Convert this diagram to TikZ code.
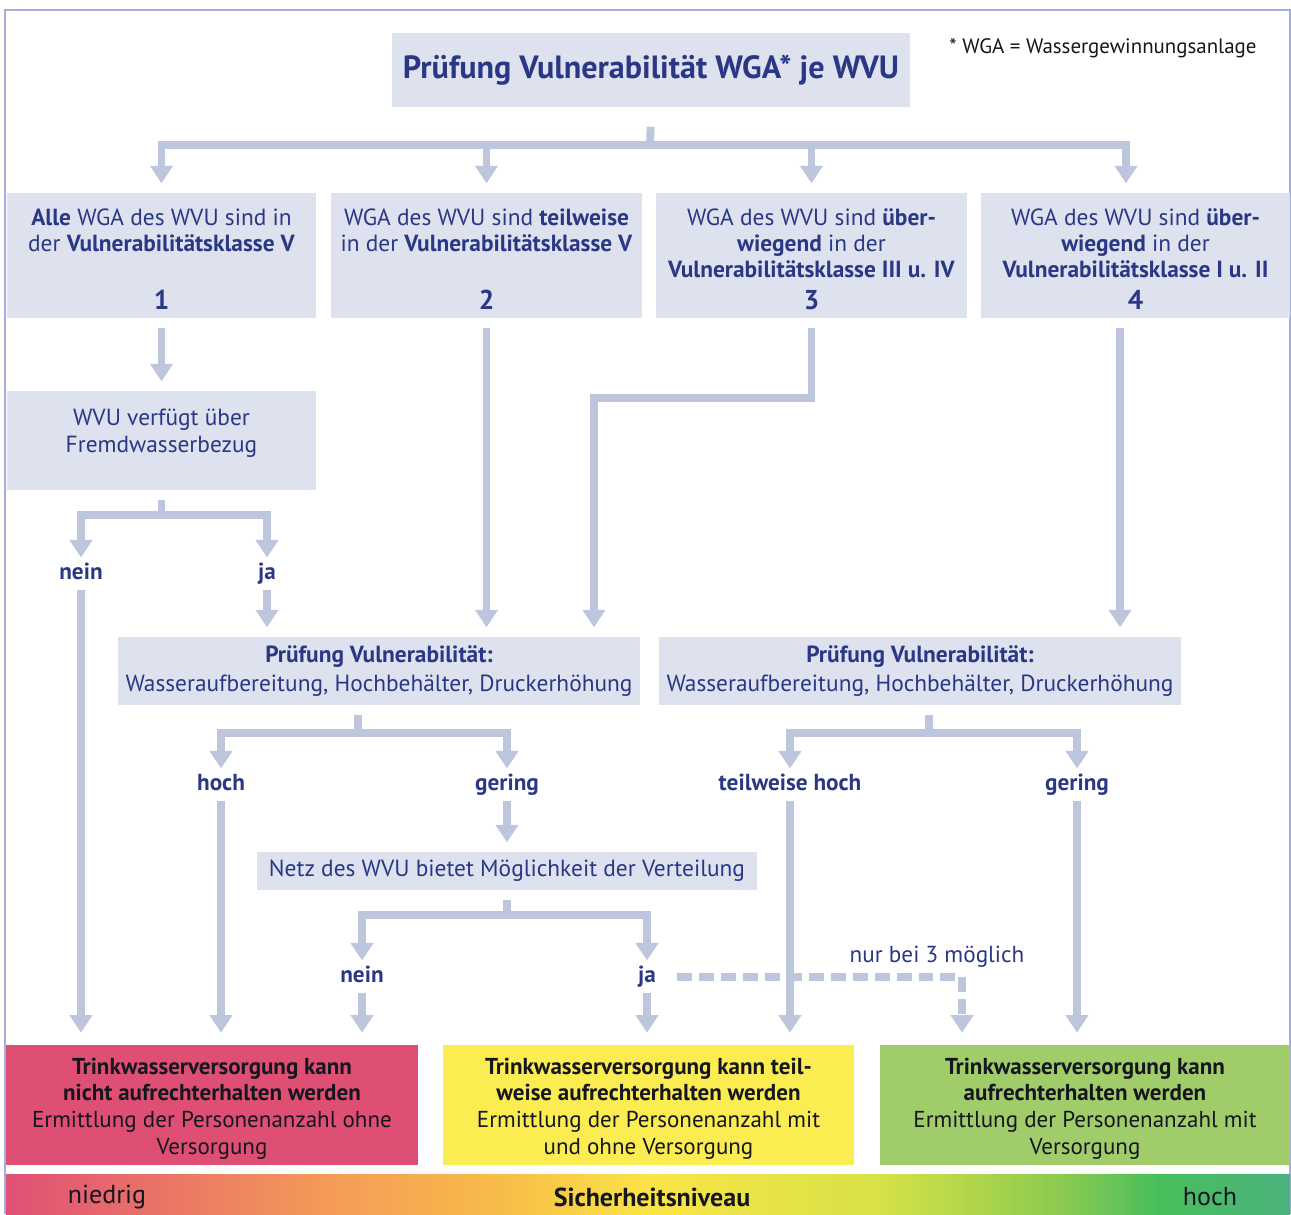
\documentclass[tikz,border=0pt]{standalone}
\usepackage{fontspec}
\setmainfont{PT Sans}
\usetikzlibrary{arrows.meta}

\definecolor{navy}{RGB}{42,55,133}
\definecolor{boxblue}{RGB}{221,226,238}
\definecolor{arrowblue}{RGB}{190,198,222}
\definecolor{framelila}{RGB}{168,172,216}
\definecolor{redbox}{RGB}{222,79,115}
\definecolor{yellowbox}{RGB}{251,236,82}
\definecolor{greenbox}{RGB}{160,204,106}
\definecolor{darktext}{RGB}{22,22,30}
% Farbverlauf Sicherheitsniveau
\definecolor{g0}{RGB}{224,80,118}
\definecolor{g1}{RGB}{236,125,100}
\definecolor{g2}{RGB}{244,155,88}
\definecolor{g3}{RGB}{248,188,72}
\definecolor{g4}{RGB}{250,228,72}
\definecolor{g5}{RGB}{214,226,70}
\definecolor{g6}{RGB}{140,202,80}
\definecolor{g7}{RGB}{72,190,92}
\definecolor{g8}{RGB}{76,178,126}

\begin{document}
\begin{tikzpicture}[x=0.02cm, y=-0.02cm,
    box/.style={fill=boxblue, text=navy, align=center, inner sep=0pt, outer sep=5.5pt,
        font=\fontsize{13.3}{15}\selectfont},
    result/.style={align=center, text=darktext, inner sep=0pt, outer sep=7pt,
        minimum width=8.22cm, minimum height=2.4cm, font=\fontsize{13.1}{15.1}\selectfont},
    lab/.style={text=navy, inner sep=1pt, outer sep=4pt, text height=1.5ex, text depth=0.25ex,
        font=\fontsize{13.2}{15}\selectfont\bfseries},
    stem/.style={draw=arrowblue, line width=4.5pt},
    flow/.style={stem, -{Triangle[width=12.5pt,length=10pt]}},
    flowdash/.style={flow, dash pattern=on 8.5pt off 4pt}
]
    \useasboundingbox (0,0) rectangle (1291,1214);

    % Rahmen
    \draw[framelila, line width=1.1pt] (5,1214) -- (5,10) -- (1290,10) -- (1290,1214);

    % Kopf
    \node[box, minimum width=10.36cm, minimum height=1.5cm, font=\fontsize{18.3}{20}\selectfont\bfseries]
        (title) at (651,70) {Prüfung Vulnerabilität WGA* je WVU};
    \node[text=darktext, font=\fontsize{11.9}{13}\selectfont] (note) at (1103,48) {* WGA = Wassergewinnungsanlage};

    % Vulnerabilitaetsklassen
    \begin{scope}[every node/.style={box, minimum height=2.5cm}]
        \node[minimum width=6.2cm] (kl1) at (161.5,255.5)
            {\rule{0pt}{13.5pt}\textbf{Alle} WGA des WVU sind in\\der \textbf{Vulnerabilitätsklasse V}\\\mbox{}\\[3pt]{\fontsize{15.5}{15}\selectfont\bfseries 1}};
        \node[minimum width=6.22cm] (kl2) at (486.5,255.5)
            {\rule{0pt}{13.5pt}WGA des WVU sind \textbf{teilweise}\\in der \textbf{Vulnerabilitätsklasse V}\\\mbox{}\\[3pt]{\fontsize{15.5}{15}\selectfont\bfseries 2}};
        \node[minimum width=6.22cm] (kl3) at (811.5,255.5)
            {\rule{0pt}{13.5pt}WGA des WVU sind \textbf{über-}\\\textbf{wiegend} in der\\\textbf{Vulnerabilitätsklasse III u. IV}\\[3pt]{\fontsize{15.5}{15}\selectfont\bfseries 3}};
        \node[minimum width=6.18cm] (kl4) at (1135.5,255.5)
            {\rule{0pt}{13.5pt}WGA des WVU sind \textbf{über-}\\\textbf{wiegend} in der\\\textbf{Vulnerabilitätsklasse I u. II}\\[3pt]{\fontsize{15.5}{15}\selectfont\bfseries 4}};
    \end{scope}

    \node[box, minimum width=6.2cm, minimum height=1.98cm] (fremd) at (161.5,440.5)
        {WVU verfügt über\\[0.6pt]Fremdwasserbezug\\[-4pt]\mbox{}};

    \node[lab] (nein1) at (81,574) {nein};
    \node[lab] (ja1) at (267,574) {ja};

    % Pruefung Vulnerabilitaet
    \node[box, minimum width=10.44cm, minimum height=1.36cm] (pruefA) at (379,671)
        {\textbf{Prüfung Vulnerabilität:}\\[1pt]Wasseraufbereitung, Hochbehälter, Druckerhöhung};
    \node[box, minimum width=10.44cm, minimum height=1.36cm] (pruefB) at (920,671)
        {\textbf{Prüfung Vulnerabilität:}\\[1pt]Wasseraufbereitung, Hochbehälter, Druckerhöhung};

    \node[lab] (hochA) at (221,785) {hoch};
    \node[lab] (geringA) at (507,785) {gering};
    \node[lab] (teilhoch) at (790,785) {teilweise hoch};
    \node[lab] (geringB) at (1077,785) {gering};

    \node[box, minimum width=10cm, minimum height=0.76cm] (netz) at (507,871)
        {Netz des WVU bietet Möglichkeit der Verteilung};

    \node[lab] (nein2) at (362,977) {nein};
    \node[lab] (ja2) at (647,977) {ja};
    \node[text=navy, font=\fontsize{13.2}{15}\selectfont] (nurbei) at (937,957) {nur bei 3 möglich};

    % Ergebnisse
    \node[result, fill=redbox, minimum width=8.24cm] (rot) at (212,1105)
        {\rule{0pt}{13.3pt}\textbf{Trinkwasserversorgung kann}\\\textbf{nicht aufrechterhalten werden}\\Ermittlung der Personenanzahl ohne\\Versorgung};
    \node[result, fill=yellowbox] (gelb) at (648.5,1105)
        {\rule{0pt}{13.3pt}\textbf{Trinkwasserversorgung kann teil-}\\\textbf{weise aufrechterhalten werden}\\Ermittlung der Personenanzahl mit\\und ohne Versorgung};
    \node[result, fill=greenbox, minimum width=8.2cm] (gruen) at (1085,1105)
        {\rule{0pt}{13.3pt}\textbf{Trinkwasserversorgung kann}\\\textbf{aufrechterhalten werden}\\Ermittlung der Personenanzahl mit\\Versorgung};

    % Sicherheitsniveau
    \foreach \xa/\xb/\ca/\cb in {6/200/g0/g1, 199/330/g1/g2, 329/500/g2/g3, 499/650/g3/g4,
            649/880/g4/g5, 879/1060/g5/g6, 1059/1160/g6/g7, 1159/1290/g7/g8}
        \shade[left color=\ca, right color=\cb] (\xa,1174) rectangle (\xb,1214);
    \node[text=darktext, font=\fontsize{14.8}{16}\selectfont] (niedrig) at (107,1197) {niedrig};
    \node[text=darktext, font=\fontsize{14.8}{16}\selectfont\bfseries] (sicher) at (652,1197) {Sicherheitsniveau};
    \node[text=darktext, font=\fontsize{14.8}{16}\selectfont] (hoch) at (1210,1197) {hoch};

    % Pfeile
    \coordinate (j0) at (650,145);
    \draw[stem, shorten <=5.5pt] (title.south) -- (j0);
    \foreach \k in {1,2,3}
        \draw[flow] (j0) -| (kl\k);
    \draw[flow] (j0) -| ([xshift=-5.4pt]kl4.north);

    \draw[flow] (kl1) -- (fremd);
    \coordinate (j1) at (161.5,515);
    \draw[stem] (fremd) -- (j1);
    \draw[flow] (j1) -| (nein1);
    \draw[flow] (j1) -| (ja1);
    \draw[flow] (ja1) -- (ja1 |- pruefA.north);
    \draw[flow] (nein1) -- (nein1 |- rot.north);

    \draw[flow] (kl2) -- (kl2 |- pruefA.north);
    \coordinate (k3) at (594,398);
    \draw[flow] (kl3) |- (k3) -- (k3 |- pruefA.north);
    \draw[flow] ([xshift=-8.8pt]kl4.south) -- ([xshift=-8.8pt]kl4.south |- pruefB.north);

    \coordinate (j2) at (358,733);
    \draw[stem] (pruefA.south -| j2) -- (j2);
    \draw[flow] (j2) -| (hochA);
    \draw[flow] (j2) -| (geringA);
    \coordinate (j3) at (929,733);
    \draw[stem] (pruefB.south -| j3) -- (j3);
    \draw[flow] (j3) -| (teilhoch);
    \draw[flow] (j3) -| (geringB);

    \draw[flow] (hochA) -- (hochA |- rot.north);
    \draw[flow] (geringA) -- (netz);
    \coordinate (j4) at (507,915);
    \draw[stem] (netz) -- (j4);
    \draw[flow] (j4) -| (nein2);
    \draw[flow] (j4) -| (ja2);
    \draw[flow] (nein2) -- (nein2 |- rot.north);
    \draw[flow] (ja2) -- (ja2 |- gelb.north);

    \coordinate (d3) at (962,980);
    \draw[flowdash, shorten <=7pt] (ja2) -| (d3 |- gruen.north);
    \draw[flow] (teilhoch) -- (teilhoch |- gelb.north);
    \draw[flow] (geringB) -- (geringB |- gruen.north);
\end{tikzpicture}
\end{document}
